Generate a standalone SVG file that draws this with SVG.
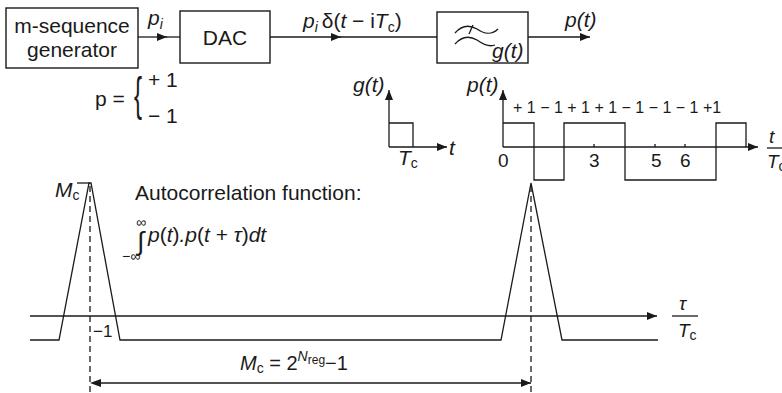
<svg xmlns="http://www.w3.org/2000/svg" width="782" height="393" viewBox="0 0 782 393">
<style>
text{font-family:"Liberation Sans",Arial,sans-serif;fill:#1a1a1a;font-size:21px}
.i{font-style:italic}
.s{font-size:14px;font-style:normal}
.sm{font-size:17px}
.box{fill:#fff;stroke:#1a1a1a;stroke-width:1.4}
.ln{fill:none;stroke:#1a1a1a;stroke-width:1.3}
.dash{fill:none;stroke:#1a1a1a;stroke-width:1.3;stroke-dasharray:6 4}
</style>
<defs>
<marker id="ah" viewBox="0 0 10 8" refX="10" refY="4" markerWidth="11" markerHeight="8" markerUnits="userSpaceOnUse" orient="auto">
<path d="M0,0 L10,4 L0,8 z" fill="#1a1a1a"/>
</marker>
</defs>

<g id="msg">
<rect class="box" x="6" y="8" width="132" height="60"/>
<text x="72" y="33" text-anchor="middle">m-sequence</text>
<text x="72" y="57" text-anchor="middle">generator</text>
</g>
<g id="dac">
<rect class="box" x="180" y="11" width="90" height="52"/>
<text x="225" y="45" text-anchor="middle">DAC</text>
</g>
<g id="filter">
<rect class="box" x="437" y="12" width="91" height="51"/>
<path class="ln" d="M455,33 C462,25 470,25 477,29 C484,34 492,35 498,29"/>
<path class="ln" d="M469,34 L473,25"/>
<path class="ln" d="M455,44 C462,36 470,36 477,40 C484,45 490,47 495,45"/>
<text class="i" x="492" y="58">g(t)</text>
</g>

<g id="connectors">
<line class="ln" x1="138" y1="37" x2="167" y2="37" marker-end="url(#ah)"/>
<line class="ln" x1="166" y1="37" x2="180" y2="37"/>
<line class="ln" x1="270" y1="37" x2="341" y2="37" marker-end="url(#ah)"/>
<line class="ln" x1="340" y1="37" x2="437" y2="37"/>
<line class="ln" x1="528" y1="37" x2="590" y2="37" marker-end="url(#ah)"/>
</g>

<g id="labels-top">
<text x="148" y="25"><tspan class="i">p</tspan><tspan class="s" style="font-style:italic" dy="4">i</tspan></text>
<text x="303" y="28"><tspan class="i">p</tspan><tspan class="s" style="font-style:italic" dy="4">i </tspan><tspan dy="-4">δ(</tspan><tspan class="i">t</tspan> − i<tspan class="i">T</tspan><tspan class="s" dy="4">c</tspan><tspan dy="-4">)</tspan></text>
<text class="i" x="565" y="27">p(t)</text>
<text x="95" y="106">p =</text>
<text transform="translate(134,110) scale(1,1.9)" style="font-size:24px">{</text>
<text x="148" y="87">+ 1</text>
<text x="148" y="123">− 1</text>
</g>

<g id="g-plot">
<line class="ln" x1="389" y1="147" x2="389" y2="90" marker-end="url(#ah)"/>
<line class="ln" x1="389" y1="147" x2="447" y2="147" marker-end="url(#ah)"/>
<polyline class="ln" points="389,123 413,123 413,147"/>
<text class="i" x="353" y="92">g(t)</text>
<text class="i" x="449" y="155">t</text>
<text x="398" y="165"><tspan class="i">T</tspan><tspan class="s" dy="3">c</tspan></text>
</g>

<g id="p-plot">
<line class="ln" x1="503" y1="147" x2="503" y2="90" marker-end="url(#ah)"/>
<line class="ln" x1="503" y1="147" x2="758" y2="147" marker-end="url(#ah)"/>
<polyline class="ln" points="503,123 534,123 534,180 564,180 564,123 625,123 625,180 716,180 716,123 746,123 746,147"/>
<line class="ln" x1="594" y1="144" x2="594" y2="147"/>
<line class="ln" x1="655" y1="144" x2="655" y2="147"/>
<line class="ln" x1="685" y1="144" x2="685" y2="147"/>
<text class="i" x="467" y="92">p(t)</text>
<text style="font-size:16px" x="513" y="113">+ 1 − 1 + 1 + 1 − 1 − 1 − 1 +1</text>
<text style="font-size:19px" x="498" y="167">0</text>
<text style="font-size:19px" x="589" y="167">3</text>
<text style="font-size:19px" x="651" y="167">5</text>
<text style="font-size:19px" x="680" y="167">6</text>
<text class="i" style="font-size:19px" x="769" y="143">t</text>
<line class="ln" x1="767" y1="148" x2="782" y2="148"/>
<text x="767" y="168" style="font-size:19px"><tspan class="i">T</tspan><tspan class="s" dy="3">c</tspan></text>
</g>

<g id="autocorr">
<line class="ln" x1="30" y1="316" x2="657" y2="316" marker-end="url(#ah)"/>
<polyline class="ln" points="30,340 59,340 89,183 91,183 120,340 501,340 531,183 562,340 658,340"/>
<line class="ln" x1="77" y1="183" x2="90" y2="183"/>
<line class="dash" x1="90" y1="186" x2="90" y2="393"/>
<line class="dash" x1="531" y1="186" x2="531" y2="393"/>
<line class="ln" x1="98" y1="383" x2="531" y2="383" marker-end="url(#ah)"/>
<path d="M90,383 L101,379 L101,387 z" fill="#1a1a1a"/>
<text x="55" y="197"><tspan class="i">M</tspan><tspan class="s" dy="3">c</tspan></text>
<text x="135" y="200">Autocorrelation function:</text>
<text x="137" y="250" style="font-size:26px">∫</text>
<text x="136" y="227" style="font-size:14px">∞</text>
<text x="122" y="261" style="font-size:14px">−∞</text>
<text x="148" y="242"><tspan class="i">p</tspan>(<tspan class="i">t</tspan>)<tspan class="i">.p</tspan>(<tspan class="i">t</tspan> + <tspan class="i">τ</tspan>)<tspan class="i">dt</tspan></text>
<text class="sm" x="93" y="337">−1</text>
<text x="240" y="370" style="font-size:20px"><tspan class="i">M</tspan><tspan class="s" dy="3">c</tspan><tspan dy="-3"> = 2</tspan><tspan class="i" style="font-size:14px" dy="-9">N</tspan><tspan class="s" style="font-size:12px" dy="3">reg</tspan><tspan style="font-size:20px" dy="6">−1</tspan></text>
<text class="i" x="679" y="310" style="font-size:19px">τ</text>
<line class="ln" x1="672" y1="316" x2="698" y2="316"/>
<text x="678" y="337" style="font-size:19px"><tspan class="i">T</tspan><tspan class="s" dy="3">c</tspan></text>
</g>
</svg>
